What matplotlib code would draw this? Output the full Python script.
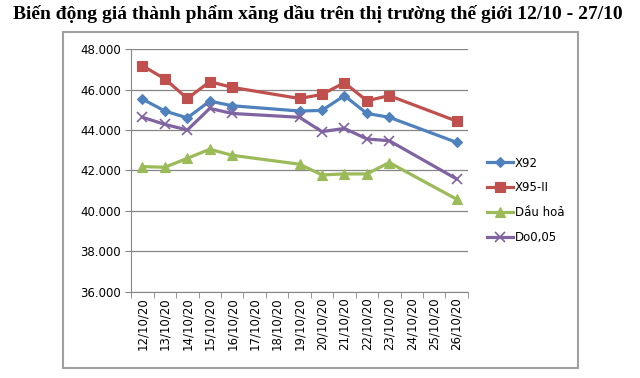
import numpy as np
import matplotlib
matplotlib.use("Agg")
import matplotlib.pyplot as plt
from matplotlib.patches import Rectangle

dates = ["12/10/20", "13/10/20", "14/10/20", "15/10/20", "16/10/20",
         "17/10/20", "18/10/20", "19/10/20", "20/10/20", "21/10/20",
         "22/10/20", "23/10/20", "24/10/20", "25/10/20", "26/10/20"]
x92 = [45.53, 44.94, 44.60, 45.43, 45.20, None, None, 44.94, 44.97, 45.70,
       44.82, 44.63, None, None, 43.39]
x95 = [47.18, 46.53, 45.56, 46.39, 46.11, None, None, 45.56, 45.76, 46.34,
       45.45, 45.70, None, None, 44.44]
dau_hoa = [42.19, 42.16, 42.60, 43.05, 42.75, None, None, 42.31, 41.78, 41.83,
           41.83, 42.39, None, None, 40.58]
do005 = [44.63, 44.28, 44.00, 45.07, 44.82, None, None, 44.63, 43.92, 44.08,
         43.56, 43.47, None, None, 41.58]

series = [
    ("X92", x92, "#4F81BD", "D", 5.5),
    ("X95-II", x95, "#C0504D", "s", 6.5),
    ("Dầu hoả", dau_hoa, "#9BBB59", "^", 6.5),
    ("Do0,05", do005, "#8064A2", "x", 6.5),
]

fig = plt.figure(figsize=(6.4, 3.78), dpi=100)
ax = fig.add_axes([0.205, 0.228, 0.526, 0.642])

xs = np.arange(len(dates))
for name, vals, color, marker, ms in series:
    pts = [(i, v) for i, v in zip(xs, vals) if v is not None]
    px = [p[0] for p in pts]
    py = [p[1] for p in pts]
    ax.plot(px, py, color=color, lw=2.3, marker=marker, markersize=ms,
            markeredgewidth=1.2 if marker == "x" else 0.8,
            markeredgecolor=color, label=name)

ax.set_ylim(36, 48)
ax.set_yticks(np.arange(36, 48.1, 2))
ax.set_yticklabels([f"{v:.3f}" for v in np.arange(36, 48.1, 2)], fontsize=8.5)
ax.set_xlim(-0.5, len(dates) - 0.5)
ax.set_xticks(xs)
ax.set_xticklabels(dates, rotation=90, fontsize=8.5)
ax.set_xticks(np.arange(-0.5, len(dates), 1), minor=True)
ax.tick_params(axis="x", which="major", length=0, pad=4)
ax.tick_params(axis="x", which="minor", length=4, color="#868686")
ax.tick_params(axis="y", length=4, color="#868686")
ax.grid(axis="y", color="#868686", lw=0.9)
ax.set_axisbelow(True)
for s in ["top", "right"]:
    ax.spines[s].set_visible(False)
for s in ["left", "bottom"]:
    ax.spines[s].set_color("#868686")

leg = fig.legend(loc="center left", bbox_to_anchor=(0.745, 0.47), frameon=False,
                 fontsize=8.5, handlelength=2.2, labelspacing=1.0,
                 handletextpad=0.1)

# chart border
fig.patches.append(Rectangle((63 / 640, 1 - 368 / 378), (578 - 63) / 640,
                             (368 - 32) / 378, transform=fig.transFigure,
                             fill=False, edgecolor="#A0A0A0", lw=1.5))

fig.text(0.497, 0.962, "Biến động giá thành phẩm xăng dầu trên thị trường thế giới 12/10 - 27/10",
         ha="center", va="center", fontsize=14.0, fontweight="bold",
         family="Liberation Serif")

fig.savefig("out.png", dpi=100)
